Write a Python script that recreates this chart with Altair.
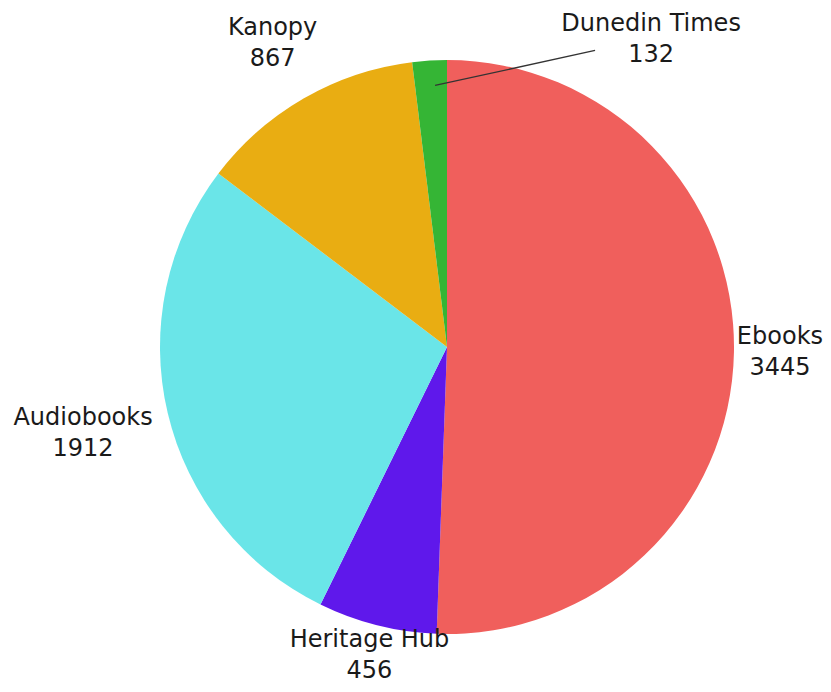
import altair as alt
import pandas as pd

categories = ["Ebooks", "Heritage Hub", "Audiobooks", "Kanopy", "Dunedin Times"]
values = [3445, 456, 1912, 867, 132]
colors = ["#f05f5c", "#5f18eb", "#6ae5e8", "#e9ad12", "#35b535"]

W, H = 752, 674
R = 287
LH = 31

df = pd.DataFrame({
    "category": categories,
    "value": values,
    "idx": list(range(len(categories))),
})

color_scale = alt.Scale(domain=categories, range=colors)

base = alt.Chart(df)

arcs = base.mark_arc(outerRadius=R).encode(
    theta=alt.Theta("value:Q", stack=True),
    color=alt.Color("category:N", scale=color_scale, legend=None),
    order=alt.Order("idx:Q"),
)

FONT = "DejaVu Sans"
FS = 24

stacked = base.transform_joinaggregate(
    total="sum(value)"
).transform_window(
    cum="sum(value)", sort=[alt.SortField("idx")], frame=[None, 0]
).transform_calculate(
    mid="datum.cum - datum.value/2",
    th="2*PI*(datum.cum - datum.value/2)/datum.total",
)

labels = stacked.transform_filter(
    alt.datum.category != "Dunedin Times"
).transform_calculate(
    label="datum.category + '\\n' + datum.value",
    lr="datum.category === 'Ebooks' ? 333 : datum.category === 'Heritage Hub' ? 318 : datum.category === 'Audiobooks' ? 374 : 350",
).mark_text(
    font=FONT, fontSize=FS, lineBreak="\n", lineHeight=LH,
    align="center", baseline="middle", color="#1a1a1a", dy=-LH / 2,
).encode(
    theta=alt.Theta("mid:Q", stack=None),
    radius=alt.Radius("lr:Q", scale=None),
    text="label:N",
)

small = stacked.transform_calculate(
    x1=f"{W/2} + 262*sin(datum.th) + 4",
    y1=f"{H/2} - 262*cos(datum.th)",
).transform_calculate(
    x2="datum.x1 + 160",
    y2="datum.y1 - 35",
    tx="datum.x1 + 216",
    ty="datum.y1 - 46",
    label="datum.category + '\\n' + datum.value",
).transform_filter(alt.datum.category == "Dunedin Times")

leader = small.mark_rule(color="#333333", strokeWidth=1.3).encode(
    x=alt.X("x1:Q", scale=None),
    y=alt.Y("y1:Q", scale=None),
    x2="x2:Q",
    y2="y2:Q",
)

small_text = small.mark_text(
    font=FONT, fontSize=FS, lineBreak="\n", lineHeight=LH,
    align="center", baseline="middle", color="#1a1a1a", dy=-LH / 2,
).encode(
    x=alt.X("tx:Q", scale=None),
    y=alt.Y("ty:Q", scale=None),
    text="label:N",
)

chart = alt.layer(arcs, labels, leader, small_text).properties(
    width=W, height=H,
    autosize=alt.AutoSizeParams(type="none"),
    padding={"left": 63, "top": 2, "right": 0, "bottom": 0},
).configure_view(stroke=None)

chart.save("out.html", embed_options={"renderer": "svg", "actions": False})
